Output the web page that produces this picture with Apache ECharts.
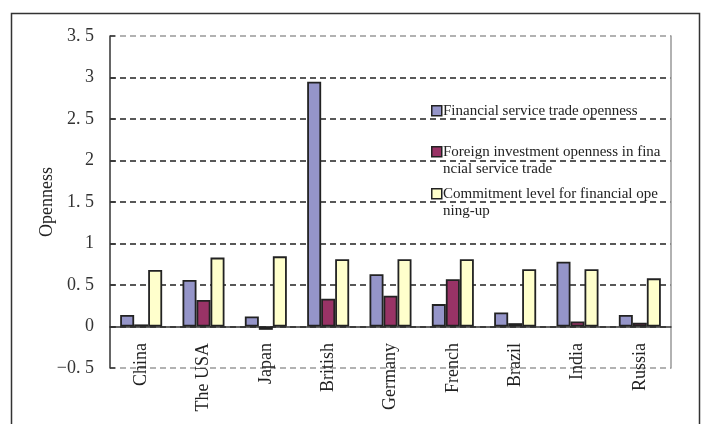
<!DOCTYPE html>
<html>
<head>
<meta charset="utf-8">
<script src="https://cdn.jsdelivr.net/npm/echarts@6/dist/echarts.min.js"></script>
<style>html,body{margin:0;padding:0;background:#fff;}#c{width:703px;height:424px;}</style>
</head>
<body>
<div id="c"></div>
<script>
const categories = ['China','The USA','Japan','British','Germany','French','Brazil','India','Russia'];
const seriesNames = ['Financial service trade openness','Foreign investment openness in financial service trade','Commitment level for financial opening-up'];
const legendLabels = ['Financial service trade openness','Foreign investment openness in fina\nncial service trade','Commitment level for financial ope\nning-up'];
const tradeOpenness = [0.14, 0.56, 0.12, 2.95, 0.63, 0.27, 0.17, 0.78, 0.14];
const investOpenness = [0.025, 0.32, -0.04, 0.335, 0.37, 0.57, 0.04, 0.06, 0.045];
const commitLevel = [0.68, 0.83, 0.845, 0.81, 0.81, 0.81, 0.69, 0.69, 0.58];
const yTickLabels = ['\u22120. 5','0','0. 5','1','1. 5','2','2. 5','3','3. 5'];
const colors = ['#9595C9','#993366','#FFFFCC'];

const FONT = 'Liberation Serif';
const chart = echarts.init(document.getElementById('c'), null, {renderer:'canvas'});
const dataSets = [tradeOpenness, investOpenness, commitLevel];

const legendTop = [102, 143, 185];
const legendGraphics = [];
legendLabels.forEach((lab, i) => {
  legendGraphics.push({type:'rect', left:431, top:legendTop[i]+3, shape:{width:10,height:10}, style:{fill:colors[i], stroke:'#222', lineWidth:1.5}});
  legendGraphics.push({type:'text', left:443, top:legendTop[i], style:{text:lab, font:'15px "' + FONT + '"', fill:'#222', lineHeight:17.5}});
});

chart.setOption({
  backgroundColor:'#fff',
  animation:false,
  grid:{left:110, right:32, top:36, bottom:56, outerBoundsMode:'none', containLabel:false},
  xAxis:{
    type:'category', data:categories,
    axisLine:{onZero:true, onZeroAxisIndex:0, lineStyle:{color:'#333', width:1.5}},
    axisTick:{inside:true, length:5, lineStyle:{color:'#333', width:1.5}},
    axisLabel:{rotate:90, margin:-25, fontFamily:FONT, fontSize:18, color:'#222'},
    splitLine:{show:false}
  },
  yAxis:[{
    type:'value', min:-0.5, max:3.5, interval:0.5,
    name:'Openness', nameLocation:'middle', nameGap:54, nameRotate:90, nameMoveOverlap:false,
    nameTextStyle:{fontFamily:FONT, fontSize:18, color:'#222'},
    axisLine:{show:true, onZero:false, lineStyle:{color:'#333', width:1.5}},
    axisTick:{show:true, inside:true, length:5, lineStyle:{color:'#333', width:1.5}},
    axisLabel:{margin:16, fontFamily:FONT, fontSize:18, color:'#333',
      formatter:(v)=>{const idx=Math.round((v+0.5)/0.5); return yTickLabels[idx]!==undefined?yTickLabels[idx]:'';}},
    splitLine:{show:true, lineStyle:{type:[6,4], width:1.5,
      color:['#999','#222','#222','#222','#222','#222','#222','#222','#999']}}
  },{
    type:'value', min:-0.5, max:3.5, interval:0.5, position:'right',
    axisLine:{show:true, onZero:false, lineStyle:{color:'#999', width:1.5}},
    axisTick:{show:false}, axisLabel:{show:false}, splitLine:{show:false}
  }],
  series: seriesNames.map((n,i)=>({
    name:n, type:'bar', data:dataSets[i], barWidth:14, barGap:'0%',
    itemStyle:{color:colors[i], borderColor:'#222', borderWidth:1.8}
  })),
  graphic:[
    {type:'rect', left:9, top:11, shape:{width:688, height:430}, style:{fill:'none', stroke:'#333', lineWidth:1.5}, z:100},
    ...legendGraphics
  ]
});
</script>
</body>
</html>
